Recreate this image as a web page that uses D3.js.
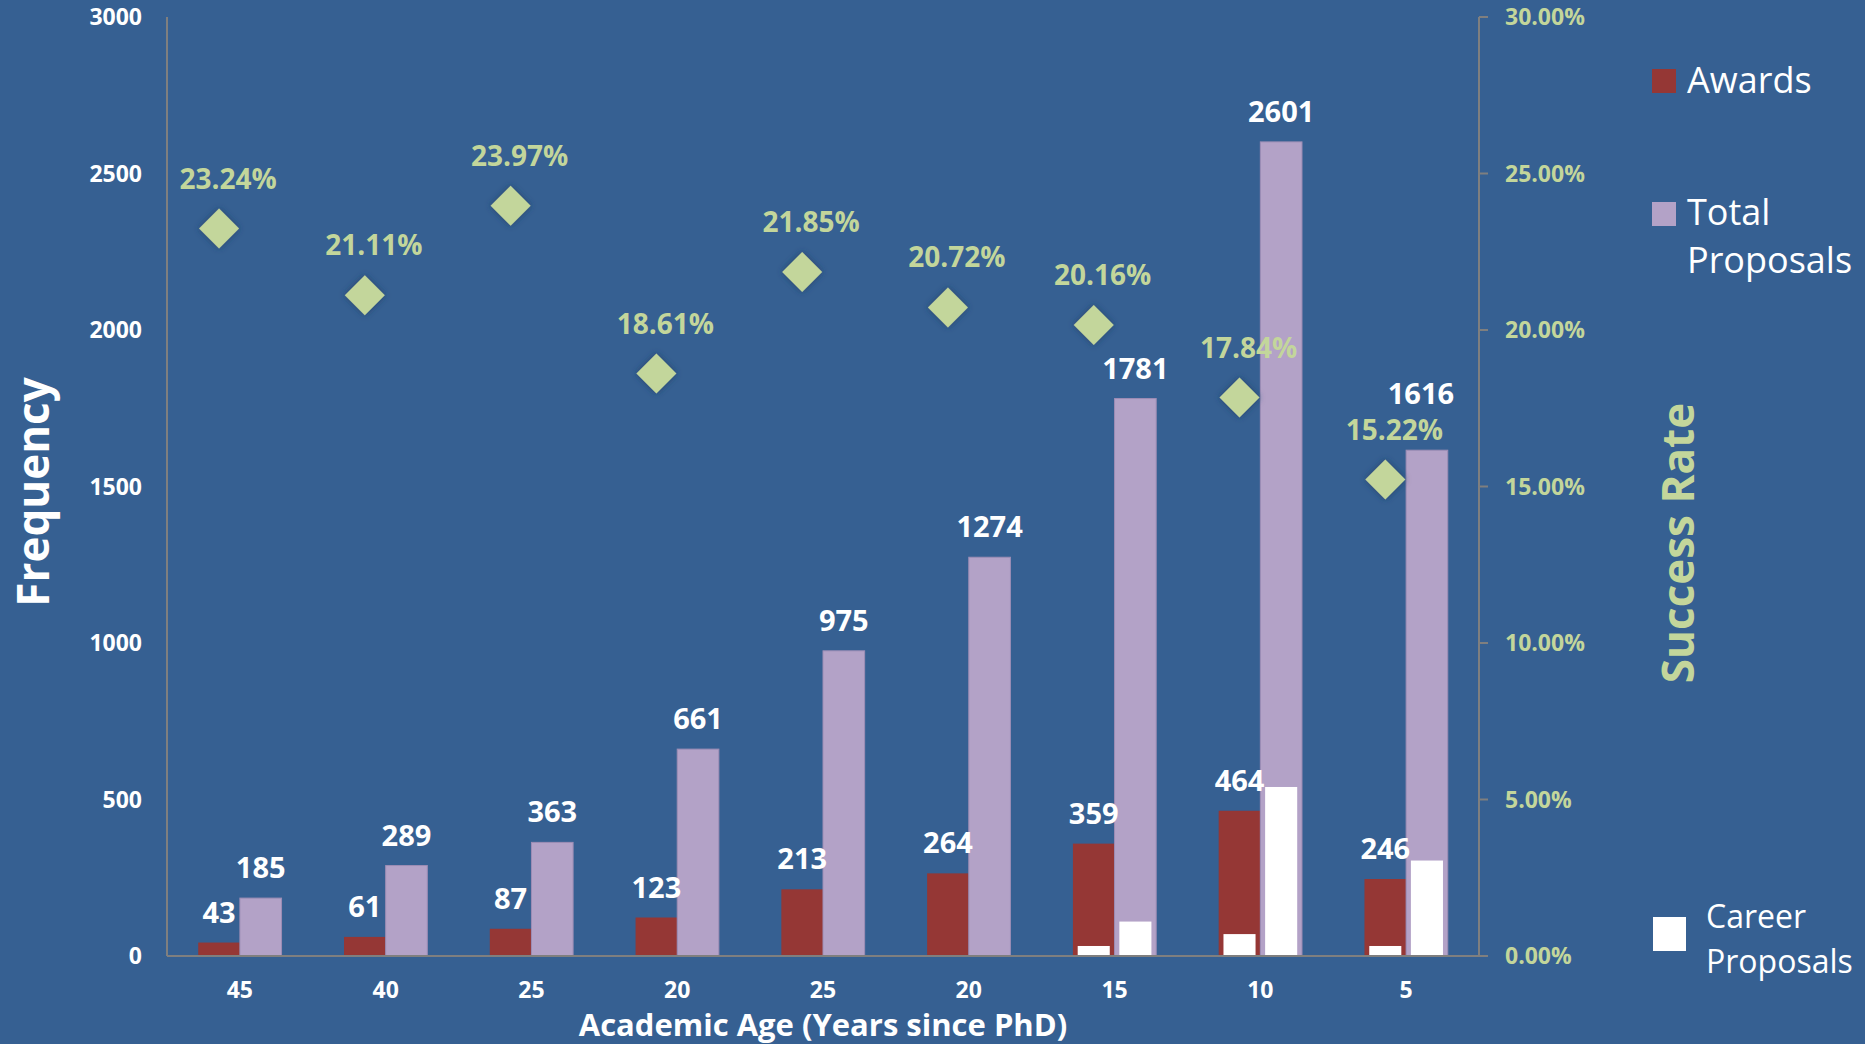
<!DOCTYPE html>
<html><head><meta charset="utf-8">
<script src="https://cdn.jsdelivr.net/npm/d3@7"></script>
<style>
html,body{margin:0;padding:0;background:#366092;overflow:hidden;}
svg{display:block;}
text{font-family:"Open Sans","Noto Sans",sans-serif;}
</style></head>
<body>
<script>
const categories = ["45","40","25","20","25","20","15","10","5"];
const awards = [43,61,87,123,213,264,359,464,246];
const totalProposals = [185,289,363,661,975,1274,1781,2601,1616];
const careerAwards = [0,0,0,0,0,0,32,70,32];
const careerProposals = [0,0,0,0,0,0,110,540,305];
const successRate = [0.2324,0.2111,0.2397,0.1861,0.2185,0.2072,0.2016,0.1784,0.1522];
const leftTicks = [0,500,1000,1500,2000,2500,3000];
const rightTicks = [0,0.05,0.10,0.15,0.20,0.25,0.30];

const W=1865,H=1044;
const bg="#366092", red="#953735", purple="#B3A2C7", green="#C3D69B", axisCol="#7f7f7f";
const svg=d3.select("body").append("svg").attr("width",W).attr("height",H);
svg.append("rect").attr("width",W).attr("height",H).attr("fill",bg);

const L=167,R=1479,T=17,B=956;
const x0=d3.scaleBand().domain(d3.range(categories.length)).range([L,R]);
const bw=x0.bandwidth(), gw=bw/1.75;
const x1=d3.scaleBand().domain(["a","t"]).range([(bw-gw)/2,(bw+gw)/2]);
const y=d3.scaleLinear().domain([0,3000]).range([B,T]);
const y2=d3.scaleLinear().domain([0,0.30]).range([B,T]);

const defs=svg.append("defs");
const f=defs.append("filter").attr("id","sh").attr("x","-50%").attr("y","-50%").attr("width","200%").attr("height","200%");
f.append("feGaussianBlur").attr("in","SourceAlpha").attr("stdDeviation",3).attr("result","b");
f.append("feFlood").attr("flood-color","#1f3c63").attr("flood-opacity",0.8);
f.append("feComposite").attr("in2","b").attr("operator","in").attr("result","s");
const m=f.append("feMerge");m.append("feMergeNode").attr("in","s");m.append("feMergeNode").attr("in","SourceGraphic");

// bars
const g=svg.append("g");
categories.forEach((c,i)=>{
  const gx=x0(i);
  g.append("rect").attr("x",gx+x1("a")).attr("y",y(awards[i])).attr("width",x1.bandwidth()).attr("height",B-y(awards[i])).attr("fill",red);
  g.append("rect").attr("x",gx+x1("t")).attr("y",y(totalProposals[i])).attr("width",x1.bandwidth()).attr("height",B-y(totalProposals[i])).attr("fill",purple).attr("stroke","#9d8db5").attr("stroke-width",1);
  const cw=x1.bandwidth()*0.77;
  if(careerAwards[i]>0) g.append("rect").attr("x",gx+x1("a")+(x1.bandwidth()-cw)/2).attr("y",y(careerAwards[i])).attr("width",cw).attr("height",B-y(careerAwards[i])).attr("fill","#fff");
  if(careerProposals[i]>0) g.append("rect").attr("x",gx+x1("t")+(x1.bandwidth()-cw)/2).attr("y",y(careerProposals[i])).attr("width",cw).attr("height",B-y(careerProposals[i])).attr("fill","#fff");
});

// axes
const ax=svg.append("g").attr("stroke",axisCol).attr("stroke-width",2);
ax.append("line").attr("x1",L).attr("x2",L).attr("y1",T).attr("y2",B);
ax.append("line").attr("x1",R).attr("x2",R).attr("y1",T).attr("y2",B);
ax.append("line").attr("x1",L).attr("x2",R+9).attr("y1",B).attr("y2",B);
rightTicks.forEach(t=>ax.append("line").attr("x1",R).attr("x2",R+9).attr("y1",y2(t)).attr("y2",y2(t)));

// left tick labels
svg.append("g").selectAll("text").data(leftTicks).join("text")
  .attr("x",142).attr("y",d=>y(d)).attr("dy","0.36em").attr("text-anchor","end")
  .attr("fill","#fff").attr("font-weight",700).attr("font-size",23).text(d=>d);
// right tick labels
svg.append("g").selectAll("text").data(rightTicks).join("text")
  .attr("x",1505).attr("y",d=>y2(d)).attr("dy","0.36em").attr("text-anchor","start")
  .attr("fill",green).attr("font-weight",700).attr("font-size",23).text(d=>d3.format(".2%")(d));
// x labels
svg.append("g").selectAll("text").data(categories).join("text")
  .attr("x",(d,i)=>x0(i)+bw/2).attr("y",998).attr("text-anchor","middle")
  .attr("fill","#fff").attr("font-weight",700).attr("font-size",23).text(d=>d);

// diamonds + percentage labels
const dg=svg.append("g");
const pct=[];
categories.forEach((c,i)=>{
  const cx=x0(i)+x1("a")+x1.bandwidth()/2, cy=y2(successRate[i]), r=20;
  dg.append("path").attr("d",`M${cx},${cy-r}L${cx+r},${cy}L${cx},${cy+r}L${cx-r},${cy}Z`).attr("fill",green).attr("filter","url(#sh)");
  pct.push({x:cx+9,y:cy-40});
});

// value labels
const vl=svg.append("g").attr("fill","#fff").attr("font-weight",700).attr("font-size",29).attr("text-anchor","middle");
categories.forEach((c,i)=>{
  vl.append("text").attr("x",x0(i)+x1("a")+x1.bandwidth()/2).attr("y",y(awards[i])-20).text(awards[i]);
  let tx=x0(i)+x1("t")+x1.bandwidth()/2, ty=y(totalProposals[i])-20;
  // avoid collision with the success-rate label
  pct.forEach(p=>{
    if(Math.abs(tx-p.x)<90 && ty>p.y-30 && ty<p.y+30){ ty=p.y-36; tx-=6; }
  });
  vl.append("text").attr("x",tx).attr("y",ty).text(totalProposals[i]);
});
dg.selectAll("text.pct").data(pct).join("text").attr("class","pct")
  .attr("x",d=>d.x).attr("y",d=>d.y).attr("text-anchor","middle").attr("fill",green)
  .attr("font-weight",700).attr("font-size",28).text((d,i)=>d3.format(".2%")(successRate[i]));

// axis titles
svg.append("text").attr("transform","translate(49,492) rotate(-90)").attr("text-anchor","middle")
  .attr("fill","#fff").attr("font-weight",700).attr("font-size",44).text("Frequency");
svg.append("text").attr("transform","translate(1694,543) rotate(-90)").attr("text-anchor","middle")
  .attr("fill",green).attr("font-weight",700).attr("font-size",44).text("Success Rate");
svg.append("text").attr("x",823).attr("y",1036).attr("text-anchor","middle")
  .attr("fill","#fff").attr("font-weight",700).attr("font-size",31).text("Academic Age (Years since PhD)");

// legend
const lg=svg.append("g").attr("fill","#fff");
lg.append("rect").attr("x",1652).attr("y",69).attr("width",24).attr("height",24).attr("fill",red);
lg.append("text").attr("x",1687).attr("y",93).attr("font-size",36).text("Awards");
lg.append("rect").attr("x",1652).attr("y",202).attr("width",24).attr("height",24).attr("fill",purple);
lg.append("text").attr("x",1687).attr("y",225).attr("font-size",36).text("Total");
lg.append("text").attr("x",1687).attr("y",273).attr("font-size",36).text("Proposals");
lg.append("rect").attr("x",1653).attr("y",917).attr("width",33).attr("height",34).attr("fill","#fff");
lg.append("text").attr("x",1706).attr("y",928).attr("font-size",32).text("Career");
lg.append("text").attr("x",1706).attr("y",973).attr("font-size",32).text("Proposals");
</script>
</body></html>
